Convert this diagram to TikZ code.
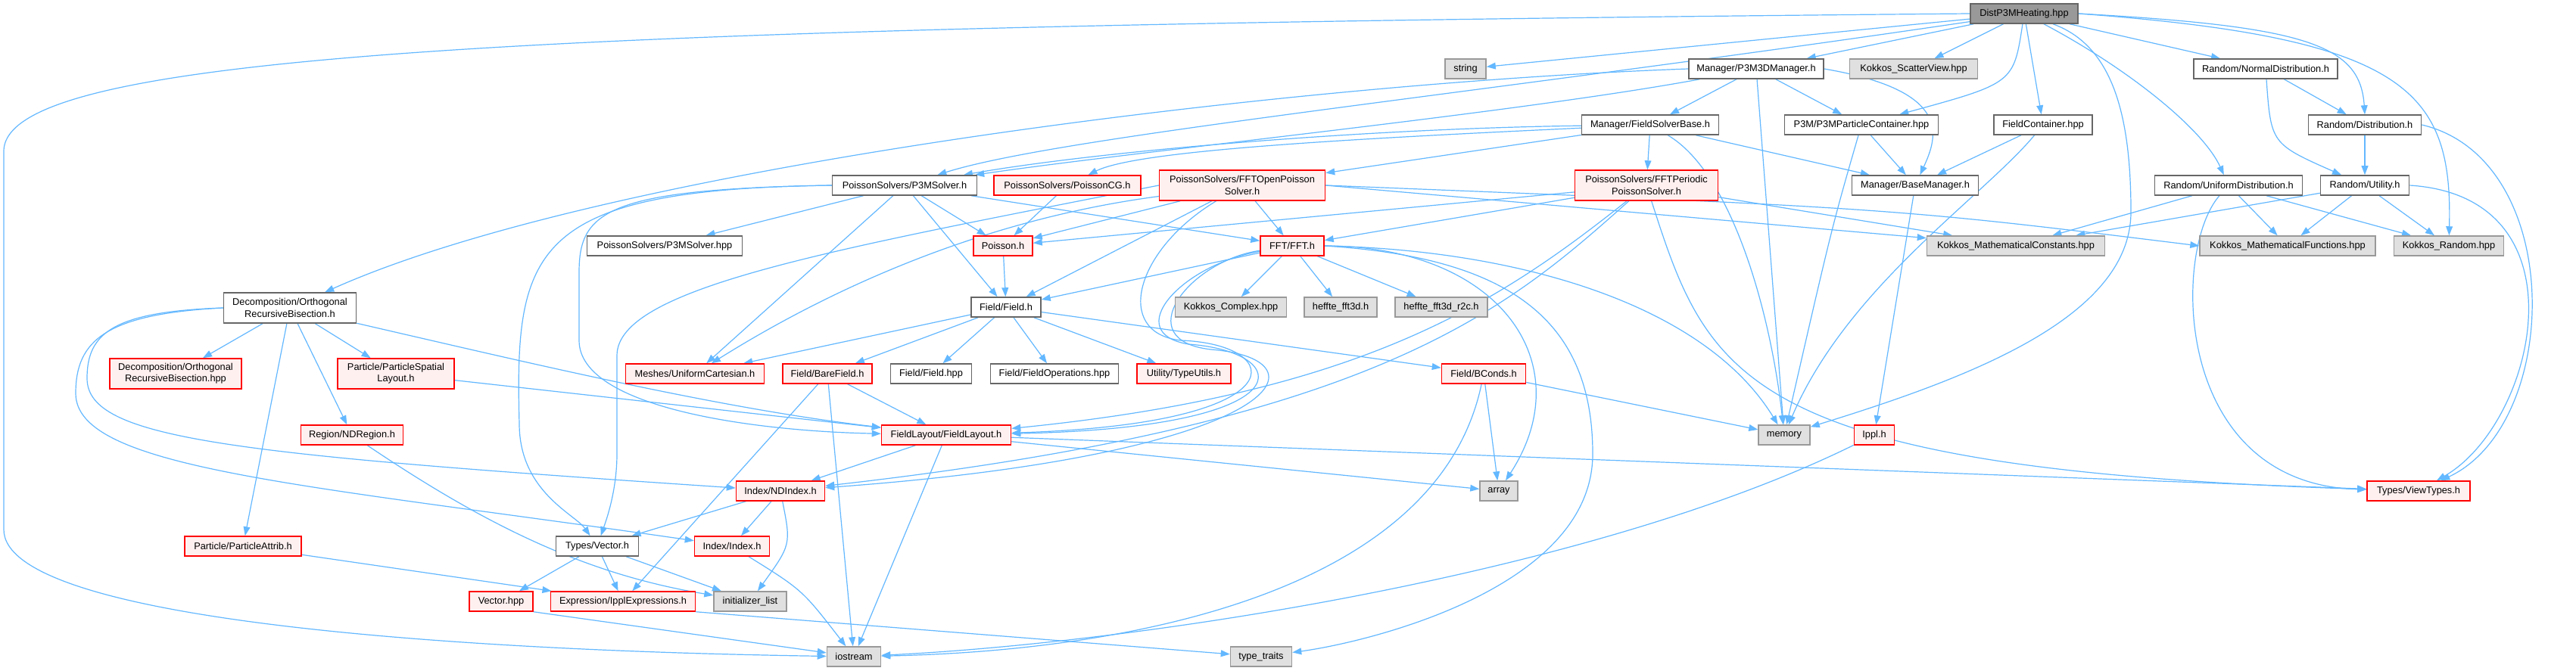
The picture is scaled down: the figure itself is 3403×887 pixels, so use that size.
\documentclass[tikz,border=0pt]{standalone}
\usepackage{fontspec}
\setmainfont{Liberation Sans}
\usetikzlibrary{arrows.meta,backgrounds}
\definecolor{edgeBlue}{RGB}{99,184,255}
\definecolor{redFill}{RGB}{255,240,240}
\definecolor{extFill}{RGB}{224,224,224}
\definecolor{rootFill}{RGB}{153,153,153}
\definecolor{docLine}{RGB}{102,102,102}
\definecolor{extLine}{RGB}{153,153,153}

\tikzset{
  hdr/.style={rectangle, inner sep=0pt, minimum height=13pt, line width=0.75pt,
    font=\fontsize{6.4}{7.6}\selectfont, align=center},
  docnode/.style={hdr, draw=docLine, fill=white},
  rednode/.style={hdr, draw=red, fill=redFill},
  extnode/.style={hdr, draw=extLine, fill=extFill},
  rootnode/.style={hdr, draw=docLine, fill=rootFill},
  tall/.style={minimum height=20pt},
  dep/.style={draw=edgeBlue, line width=0.6pt, -{Triangle[length=6pt,width=4.4pt]}}
}

\begin{document}
\begin{tikzpicture}[x=0.5pt, y=-0.5pt]
\useasboundingbox (0,0) rectangle (3403,887);

% row 1 and 2
\node[rootnode, minimum width=71pt] (dist) at (2674,18) {DistP3MHeating.hpp};
\node[extnode, minimum width=27pt] (string) at (1936,91) {string};
\node[docnode, minimum width=89pt] (p3m3d) at (2320,91) {Manager/P3M3DManager.h};
\node[extnode, minimum width=84.5pt] (scatter) at (2528,91) {Kokkos\_ScatterView.hpp};
\node[docnode, minimum width=95pt] (normal) at (2993,91) {Random/NormalDistribution.h};
% row 3
\node[docnode, minimum width=90.5pt] (fsbase) at (2180,165) {Manager/FieldSolverBase.h};
\node[docnode, minimum width=101.5pt] (pcont) at (2459,165) {P3M/P3MParticleContainer.hpp};
\node[docnode, minimum width=65pt] (fcont) at (2699,165) {FieldContainer.hpp};
\node[docnode, minimum width=74.5pt] (distr) at (3124,165) {Random/Distribution.h};
% row 4
\node[docnode, minimum width=95.5pt] (p3msolver) at (1195,245) {PoissonSolvers/P3MSolver.h};
\node[rednode, minimum width=97pt] (poissoncg) at (1410,245) {PoissonSolvers/PoissonCG.h};
\node[rednode, tall, minimum width=109.5pt] (fftopen) at (1641,245) {PoissonSolvers/FFTOpenPoisson\\Solver.h};
\node[rednode, tall, minimum width=94.5pt] (fftper) at (2175,245) {PoissonSolvers/FFTPeriodic\\PoissonSolver.h};
\node[docnode, minimum width=83.5pt] (basemgr) at (2530,245) {Manager/BaseManager.h};
\node[docnode, minimum width=97.5pt] (uniform) at (2944,245) {Random/UniformDistribution.h};
\node[docnode, minimum width=58.5pt] (utility) at (3124,245) {Random/Utility.h};
% row 5
\node[docnode, minimum width=102.5pt] (p3mhpp) at (878,325) {PoissonSolvers/P3MSolver.hpp};
\node[rednode, minimum width=39pt] (poisson) at (1325,325) {Poisson.h};
\node[rednode, minimum width=42pt] (fft) at (1707,325) {FFT/FFT.h};
\node[extnode, minimum width=117.5pt] (kconst) at (2663,325) {Kokkos\_MathematicalConstants.hpp};
\node[extnode, minimum width=116pt] (kfunc) at (3022,325) {Kokkos\_MathematicalFunctions.hpp};
\node[extnode, minimum width=72.5pt] (krandom) at (3235,325) {Kokkos\_Random.hpp};
% row 6
\node[docnode, tall, minimum width=87.5pt] (orb) at (383,407) {Decomposition/Orthogonal\\RecursiveBisection.h};
\node[docnode, minimum width=46pt] (field) at (1329,406) {Field/Field.h};
\node[extnode, minimum width=73.5pt] (kcomplex) at (1626,406) {Kokkos\_Complex.hpp};
\node[extnode, minimum width=48pt] (heffte) at (1771,406) {heffte\_fft3d.h};
\node[extnode, minimum width=61pt] (hefftr) at (1904,406) {heffte\_fft3d\_r2c.h};
% row 7
\node[rednode, tall, minimum width=87pt] (orbhpp) at (232,494) {Decomposition/Orthogonal\\RecursiveBisection.hpp};
\node[rednode, tall, minimum width=77pt] (psl) at (523,494) {Particle/ParticleSpatial\\Layout.h};
\node[rednode, minimum width=91.5pt] (mesh) at (918,494) {Meshes/UniformCartesian.h};
\node[rednode, minimum width=59pt] (barefield) at (1093,494) {Field/BareField.h};
\node[docnode, minimum width=53.5pt] (fieldhpp) at (1230,494) {Field/Field.hpp};
\node[docnode, minimum width=84.5pt] (fieldops) at (1393,494) {Field/FieldOperations.hpp};
\node[rednode, minimum width=62pt] (typeutils) at (1564,494) {Utility/TypeUtils.h};
\node[rednode, minimum width=55.5pt] (bconds) at (1960,494) {Field/BConds.h};
% row 8
\node[rednode, minimum width=67.5pt] (ndregion) at (465,575) {Region/NDRegion.h};
\node[rednode, minimum width=85.5pt] (layout) at (1250,575) {FieldLayout/FieldLayout.h};
\node[extnode, minimum width=34pt] (memory) at (2357,575) {memory};
\node[rednode, minimum width=26.5pt] (ippl) at (2476,575) {Ippl.h};
% row 9
\node[rednode, minimum width=58.5pt] (ndindex) at (1031,649) {Index/NDIndex.h};
\node[extnode, minimum width=25pt] (array) at (1980,649) {array};
\node[rednode, minimum width=68pt] (viewtypes) at (3195,649) {Types/ViewTypes.h};
% row 10 to 12
\node[rednode, minimum width=77pt] (pattrib) at (321,722) {Particle/ParticleAttrib.h};
\node[docnode, minimum width=54.5pt] (vectorh) at (789,722) {Types/Vector.h};
\node[rednode, minimum width=49.5pt] (index) at (967,722) {Index/Index.h};
\node[rednode, minimum width=42pt] (vectorhpp) at (662,795) {Vector.hpp};
\node[rednode, minimum width=95.5pt] (expr) at (823,795) {Expression/IpplExpressions.h};
\node[extnode, minimum width=48pt] (initlist) at (991,795) {initializer\_list};
\node[extnode, minimum width=35.5pt] (iostream) at (1128,868) {iostream};
\node[extnode, minimum width=40.5pt] (typetraits) at (1666,868) {type\_traits};

\begin{scope}[on background layer]
\fill[white] (0,0) rectangle (3403,887);
% DistP3MHeating.hpp
\draw[dep] (dist) -- (string);
\draw[dep] (dist) -- (p3m3d);
\draw[dep] (dist) -- (scatter);
\draw[dep] (dist) .. controls (2660,110) .. (pcont);
\draw[dep] (dist) -- (fcont);
\draw[dep] (dist) -- (normal);
\draw[dep] (dist.east) .. controls (3050,35) and (3118,60) .. (distr.north);
\draw[dep] (dist) .. controls (2810,90) and (2910,170) .. (uniform);
\draw[dep] (dist) .. controls (2790,60) and (2815,150) .. (2815,280)
  .. controls (2815,420) and (2600,500) .. (memory);
\draw[dep] (dist.east) .. controls (3180,50) and (3240,120) .. (krandom);
\draw[dep] (dist) .. controls (1950,125) and (1400,180) .. (p3msolver);
\draw[dep] (dist.west) .. controls (700,35) and (5,70) .. (5,200) -- (5,700)
  .. controls (5,820) and (600,860) .. (iostream);
% managers
\draw[dep] (p3m3d) -- (fsbase);
\draw[dep] (p3m3d) -- (pcont);
\draw[dep] (p3m3d) -- (memory);
\draw[dep] (p3m3d.east) .. controls (2580,120) and (2560,180) .. (basemgr);
\draw[dep] (p3m3d.west) .. controls (1700,110) and (800,220) .. (orb);
\draw[dep] (p3m3d) .. controls (2000,150) and (1500,200) .. (p3msolver);
\draw[dep] (fsbase) .. controls (1800,170) and (1450,200) .. (p3msolver);
\draw[dep] (fsbase) .. controls (1750,185) and (1500,200) .. (poissoncg);
\draw[dep] (fsbase) -- (fftopen);
\draw[dep] (fsbase) -- (fftper);
\draw[dep] (fsbase) -- (basemgr);
\draw[dep] (fsbase) .. controls (2290,230) and (2340,420) .. (memory);
\draw[dep] (pcont) -- (basemgr);
\draw[dep] (pcont) .. controls (2420,300) .. (memory);
\draw[dep] (fcont) -- (basemgr);
\draw[dep] (fcont) .. controls (2620,260) and (2440,380) .. (memory);
\draw[dep] (basemgr) -- (ippl);
\draw[dep] (ippl) .. controls (2100,760) and (1500,850) .. (iostream);
% random
\draw[dep] (normal) -- (distr);
\draw[dep] (normal) .. controls (3000,190) .. (utility);
\draw[dep] (distr) -- (utility);
\draw[dep] (distr.east) .. controls (3390,210) and (3385,560) .. (viewtypes);
\draw[dep] (uniform) -- (kconst);
\draw[dep] (uniform) -- (kfunc);
\draw[dep] (uniform) -- (krandom);
\draw[dep] (uniform) .. controls (2869,330) and (2869,640) .. (viewtypes);
\draw[dep] (utility) -- (kconst);
\draw[dep] (utility) -- (kfunc);
\draw[dep] (utility) -- (krandom);
\draw[dep] (utility.east) .. controls (3420,260) and (3350,560) .. (viewtypes);
% solvers
\draw[dep] (p3msolver) -- (p3mhpp);
\draw[dep] (p3msolver) -- (poisson);
\draw[dep] (p3msolver) -- (field);
\draw[dep] (p3msolver) -- (fft);
\draw[dep] (p3msolver) -- (mesh);
\draw[dep] (p3msolver.west) .. controls (700,250) and (680,330) .. (686,560)
  .. controls (686,650) and (760,680) .. (vectorh);
\draw[dep] (p3msolver.west) .. controls (800,250) and (765,280) .. (765,360) -- (765,450)
  .. controls (765,540) and (1000,570) .. (layout);
\draw[dep] (poissoncg) -- (poisson);
\draw[dep] (fftopen) -- (poisson);
\draw[dep] (fftopen) -- (fft);
\draw[dep] (fftopen) -- (field);
\draw[dep] (fftopen) .. controls (1300,290) and (1100,380) .. (mesh);
\draw[dep] (fftopen.west) .. controls (1100,330) and (815,380) .. (815,470) -- (815,600)
  .. controls (815,650) and (800,690) .. (vectorh);
\draw[dep] (fftopen) .. controls (1500,330) and (1470,440) .. (1560,450)
  .. controls (1700,455) and (1720,560) .. (layout);
\draw[dep] (fftopen.east) -- (kconst);
\draw[dep] (fftopen.east) .. controls (2500,275) .. (kfunc.west);
\draw[dep] (fftper) -- (poisson);
\draw[dep] (fftper) -- (fft);
\draw[dep] (fftper) .. controls (1980,400) and (1800,520) .. (layout);
\draw[dep] (fftper) .. controls (1990,410) and (1820,560) .. (ndindex);
\draw[dep] (fftper) .. controls (2257,500) and (2300,620) .. (viewtypes);
\draw[dep] (fftper) -- (kconst);
% FFT
\draw[dep] (fft) -- (field);
\draw[dep] (fft) -- (kcomplex);
\draw[dep] (fft) -- (heffte);
\draw[dep] (fft) -- (hefftr);
\draw[dep] (fft) .. controls (1560,350) and (1480,440) .. (1570,455)
  .. controls (1710,465) and (1730,565) .. (layout);
\draw[dep] (fft) .. controls (1570,345) and (1490,450) .. (1600,462)
  .. controls (1760,475) and (1700,600) .. (ndindex);
\draw[dep] (fft.east) .. controls (1980,325) and (2090,480) .. (array);
\draw[dep] (fft.east) .. controls (2000,330) and (2250,400) .. (memory);
\draw[dep] (fft.east) .. controls (1990,340) and (2104,420) .. (2104,600)
  .. controls (2104,780) and (1800,850) .. (typetraits);
% fields
\draw[dep] (poisson) -- (field);
\draw[dep] (field) -- (mesh);
\draw[dep] (field) -- (barefield);
\draw[dep] (field) -- (fieldhpp);
\draw[dep] (field) -- (fieldops);
\draw[dep] (field) -- (typeutils);
\draw[dep] (field) -- (bconds);
\draw[dep] (barefield) -- (layout);
\draw[dep] (barefield) -- (iostream);
\draw[dep] (barefield) -- (expr);
\draw[dep] (bconds) -- (memory);
\draw[dep] (bconds) -- (array);
\draw[dep] (bconds) .. controls (1900,780) and (1500,860) .. (iostream);
\draw[dep] (layout) -- (ndindex);
\draw[dep] (layout) -- (iostream);
\draw[dep] (layout) -- (array);
\draw[dep] (layout) -- (viewtypes);
% decomposition
\draw[dep] (orb) -- (orbhpp);
\draw[dep] (orb) -- (psl);
\draw[dep] (orb) -- (ndregion);
\draw[dep] (orb) -- (pattrib);
\draw[dep] (orb) .. controls (700,480) and (950,540) .. (layout);
\draw[dep] (orb.west) .. controls (150,412) and (115,440) .. (115,500)
  .. controls (115,580) and (300,600) .. (ndindex);
\draw[dep] (orb.west) .. controls (140,415) and (100,450) .. (100,520)
  .. controls (100,620) and (400,640) .. (index);
\draw[dep] (psl) -- (layout);
\draw[dep] (ndregion) .. controls (650,700) and (780,760) .. (initlist);
\draw[dep] (pattrib) -- (expr);
% index and vector
\draw[dep] (ndindex) -- (vectorh);
\draw[dep] (ndindex) -- (index);
\draw[dep] (ndindex) .. controls (1045,720) .. (initlist);
\draw[dep] (vectorh) -- (vectorhpp);
\draw[dep] (vectorh) -- (expr);
\draw[dep] (vectorh) -- (initlist);
\draw[dep] (index) .. controls (1060,780) .. (iostream);
\draw[dep] (vectorhpp.south east) -- (iostream);
\draw[dep] (expr.south east) -- (typetraits);
\end{scope}
\end{tikzpicture}
\end{document}
